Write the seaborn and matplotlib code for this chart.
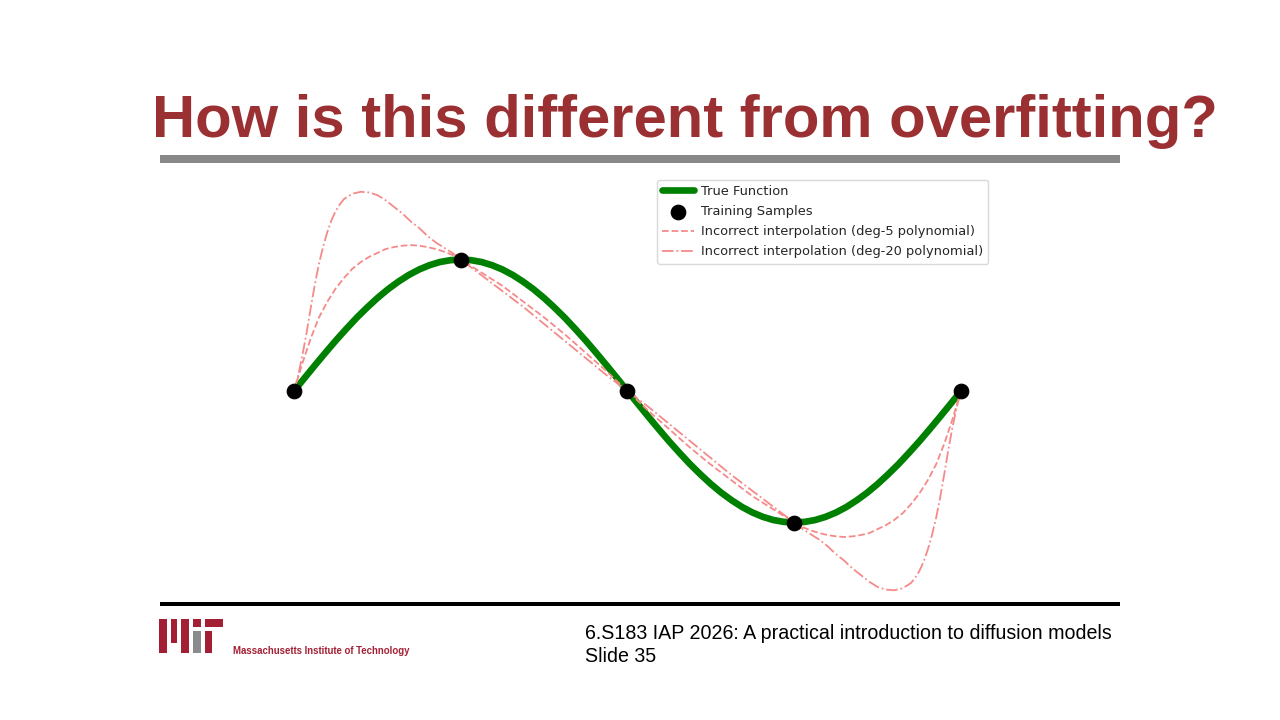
import matplotlib
matplotlib.use("Agg")
import matplotlib.pyplot as plt
from matplotlib.patches import Rectangle
import seaborn as sns
import pandas as pd

# values (x = sample index, y = function value)
TRUE_X = [0.0, 0.0625, 0.125, 0.1875, 0.25, 0.3125, 0.375, 0.4375, 0.5, 0.5625, 0.625,
          0.6875, 0.75, 0.8125, 0.875, 0.9375, 1.0, 1.0625, 1.125, 1.1875, 1.25, 1.3125,
          1.375, 1.4375, 1.5, 1.5625, 1.625, 1.6875, 1.75, 1.8125, 1.875, 1.9375, 2.0,
          2.0625, 2.125, 2.1875, 2.25, 2.3125, 2.375, 2.4375, 2.5, 2.5625, 2.625, 2.6875,
          2.75, 2.8125, 2.875, 2.9375, 3.0, 3.0625, 3.125, 3.1875, 3.25, 3.3125, 3.375,
          3.4375, 3.5, 3.5625, 3.625, 3.6875, 3.75, 3.8125, 3.875, 3.9375, 4.0]
TRUE_Y = [0.0, 0.098, 0.195, 0.290, 0.383, 0.471, 0.556, 0.634, 0.707, 0.773, 0.831,
          0.882, 0.924, 0.957, 0.981, 0.995, 1.0, 0.995, 0.981, 0.957, 0.924, 0.882,
          0.831, 0.773, 0.707, 0.634, 0.556, 0.471, 0.383, 0.290, 0.195, 0.098, 0.0,
          -0.098, -0.195, -0.290, -0.383, -0.471, -0.556, -0.634, -0.707, -0.773, -0.831,
          -0.882, -0.924, -0.957, -0.981, -0.995, -1.0, -0.995, -0.981, -0.957, -0.924,
          -0.882, -0.831, -0.773, -0.707, -0.634, -0.556, -0.471, -0.383, -0.290, -0.195,
          -0.098, 0.0]

SAMPLE_X = [0, 1, 2, 3, 4]
SAMPLE_Y = [0, 1, 0, -1, 0]

DEG5_X = [0.0, 0.05, 0.1, 0.15, 0.2, 0.25, 0.3, 0.35, 0.4, 0.45, 0.5, 0.55, 0.6, 0.65, 0.7,
          0.75, 0.8, 0.85, 0.9, 0.95, 1.0, 1.125, 1.25, 1.375, 1.5, 1.625, 1.75, 1.875, 2.0,
          2.125, 2.25, 2.375, 2.5, 2.625, 2.75, 2.875, 3.0, 3.05, 3.1, 3.15, 3.2, 3.25, 3.3,
          3.35, 3.4, 3.45, 3.5, 3.55, 3.6, 3.65, 3.7, 3.75, 3.8, 3.85, 3.9, 3.95, 4.0]
DEG5_Y = [0.0, 0.21, 0.40, 0.56, 0.68, 0.78, 0.86, 0.93, 0.98, 1.02, 1.05, 1.08, 1.095, 1.105,
          1.11, 1.105, 1.095, 1.08, 1.06, 1.035, 1.0, 0.90, 0.80, 0.68, 0.56, 0.43, 0.29, 0.15,
          0.0, -0.15, -0.29, -0.43, -0.56, -0.68, -0.80, -0.90, -1.0, -1.035, -1.06, -1.08,
          -1.095, -1.105, -1.11, -1.105, -1.095, -1.08, -1.05, -1.02, -0.98, -0.93, -0.86,
          -0.78, -0.68, -0.56, -0.40, -0.21, 0.0]

DEG20_X = [0.0, 0.025, 0.05, 0.075, 0.1, 0.125, 0.15, 0.175, 0.2, 0.225, 0.25, 0.275, 0.3,
           0.35, 0.4, 0.45, 0.5, 0.55, 0.6, 0.65, 0.7, 0.75, 0.8, 0.85, 0.9, 0.95, 1.0,
           1.125, 1.25, 1.375, 1.5, 1.625, 1.75, 1.875, 2.0, 2.125, 2.25, 2.375, 2.5, 2.625,
           2.75, 2.875, 3.0, 3.05, 3.1, 3.15, 3.2, 3.25, 3.3, 3.35, 3.4, 3.45, 3.5, 3.55,
           3.6, 3.65, 3.7, 3.725, 3.75, 3.775, 3.8, 3.825, 3.85, 3.875, 3.9, 3.925, 3.95,
           3.975, 4.0]
DEG20_Y = [0.0, 0.12, 0.27, 0.44, 0.63, 0.81, 0.97, 1.10, 1.21, 1.30, 1.37, 1.42, 1.46,
           1.50, 1.515, 1.51, 1.49, 1.45, 1.40, 1.35, 1.29, 1.24, 1.18, 1.13, 1.09, 1.05, 1.0,
           0.88, 0.76, 0.64, 0.51, 0.38, 0.25, 0.12, 0.0, -0.12, -0.25, -0.38, -0.51, -0.64,
           -0.76, -0.88, -1.0, -1.05, -1.09, -1.13, -1.18, -1.24, -1.29, -1.35, -1.40, -1.45,
           -1.49, -1.51, -1.515, -1.50, -1.46, -1.42, -1.37, -1.30, -1.21, -1.10, -0.97,
           -0.81, -0.63, -0.44, -0.27, -0.12, 0.0]

LEGEND_LABELS = ["True Function", "Training Samples",
                 "Incorrect interpolation (deg-5 polynomial)",
                 "Incorrect interpolation (deg-20 polynomial)"]

TITLE = "How is this different from overfitting?"
FOOTER_1 = "6.S183 IAP 2026: A practical introduction to diffusion models"
FOOTER_2 = "Slide 35"
MIT_NAME = "Massachusetts Institute of Technology"

W, H = 1280, 720
TITLE_RED = "#9b3033"
MIT_RED = "#a31f34"
PINK = "#f58a8a"

sns.set_style("white")
plt.rcParams["font.family"] = ["Liberation Sans", "DejaVu Sans"]

fig = plt.figure(figsize=(12.8, 7.2), dpi=100)
fig.patch.set_facecolor("white")


def fx(px):
    return px / W


def fy(py):
    return 1 - py / H


# plot area (pixel box 275..995 x 173..600)
ax = fig.add_axes([fx(275), fy(600), fx(995) - fx(275), fy(173) - fy(600)])
ax.set_xlim(-0.114, 4.204)
ax.set_ylim(-1.589, 1.658)
ax.axis("off")

true_df = pd.DataFrame({"x": TRUE_X, "y": TRUE_Y})
deg5_df = pd.DataFrame({"x": DEG5_X, "y": DEG5_Y})
deg20_df = pd.DataFrame({"x": DEG20_X, "y": DEG20_Y})
samples_df = pd.DataFrame({"x": SAMPLE_X, "y": SAMPLE_Y})

sns.lineplot(data=true_df, x="x", y="y", ax=ax, color="green", linewidth=4.8,
             sort=False, label=LEGEND_LABELS[0], zorder=2,
             solid_joinstyle="round", solid_capstyle="round")
sns.scatterplot(data=samples_df, x="x", y="y", ax=ax, color="black", s=110,
                edgecolor="black", label=LEGEND_LABELS[1], zorder=5)
sns.lineplot(data=deg5_df, x="x", y="y", ax=ax, color=PINK, linewidth=1.3,
             linestyle="--", sort=False, label=LEGEND_LABELS[2], zorder=3)
sns.lineplot(data=deg20_df, x="x", y="y", ax=ax, color=PINK, linewidth=1.3,
             linestyle="-.", sort=False, label=LEGEND_LABELS[3], zorder=3)
ax.set_xlabel("")
ax.set_ylabel("")

handles, labels = ax.get_legend_handles_labels()
order = [labels.index(l) for l in LEGEND_LABELS]
leg = ax.legend([handles[i] for i in order], [labels[i] for i in order],
                loc="upper right", frameon=True, labelspacing=0.55,
                handlelength=2.4, handletextpad=0.55, borderaxespad=0.5,
                prop={"family": "DejaVu Sans", "size": 9.4})
leg.get_frame().set_edgecolor("#d0d0d0")

# slide decoration
fig.text(fx(152), fy(137), TITLE, fontsize=43, fontweight="bold", color=TITLE_RED,
         ha="left", va="baseline")
fig.add_artist(Rectangle((fx(160), fy(163)), fx(1120) - fx(160), fy(155) - fy(163),
                         transform=fig.transFigure, color="#888888", lw=0))
fig.add_artist(Rectangle((fx(160), fy(606)), fx(1120) - fx(160), fy(602) - fy(606),
                         transform=fig.transFigure, color="black", lw=0))

fig.text(fx(585), fy(639), FOOTER_1, fontsize=14.1, color="black", ha="left", va="baseline")
fig.text(fx(585), fy(662), FOOTER_2, fontsize=14.1, color="black", ha="left", va="baseline")

# MIT logo bars (pixel boxes)
logo = [
    (159, 619, 167, 653, MIT_RED),
    (171, 619, 177, 643, MIT_RED),
    (181, 619, 189, 653, MIT_RED),
    (193, 619, 201, 627, MIT_RED),
    (193, 631, 201, 653, "#8a8b8c"),
    (205, 619, 223, 627, MIT_RED),
    (205, 631, 212, 653, MIT_RED),
]
for x0, y0, x1, y1, c in logo:
    fig.add_artist(Rectangle((fx(x0), fy(y1)), fx(x1) - fx(x0), fy(y0) - fy(y1),
                             transform=fig.transFigure, color=c, lw=0))
fig.text(fx(233), fy(654), MIT_NAME, fontsize=6.9, fontweight="bold", color=MIT_RED,
         ha="left", va="baseline")

fig.savefig("out.png", dpi=100, facecolor="white")
